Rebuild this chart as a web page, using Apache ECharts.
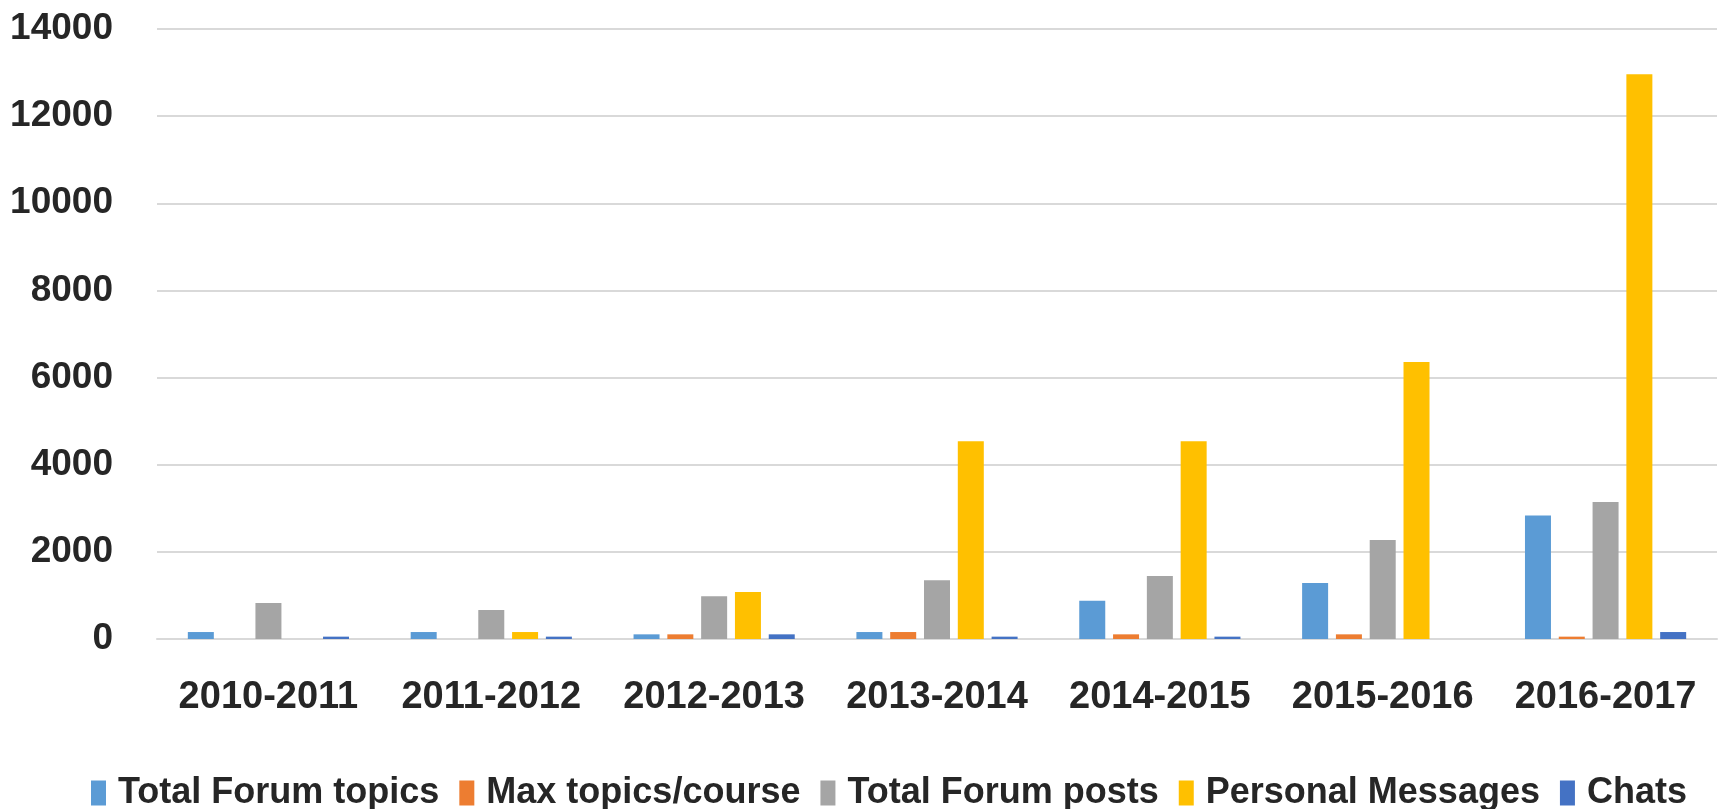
<!DOCTYPE html>
<html>
<head>
<meta charset="utf-8">
<script src="https://cdn.jsdelivr.net/npm/echarts@6/dist/echarts.min.js"></script>
<style>
  html, body { margin: 0; padding: 0; background: #fff; }
  #chart { width: 1721px; height: 809px; }
</style>
</head>
<body>
<div id="chart"></div>
<script>
var years = ['2010-2011', '2011-2012', '2012-2013', '2013-2014', '2014-2015', '2015-2016', '2016-2017'];
var forumTopics = [160, 160, 107, 160, 879, 1284, 2835];
var maxTopics = [0, 0, 107, 160, 107, 107, 54];
var forumPosts = [826, 665, 979, 1346, 1445, 2271, 3142];
var personalMessages = [0, 160, 1080, 4540, 4540, 6355, 12959];
var chats = [54, 54, 107, 54, 54, 0, 160];

var chart = echarts.init(document.getElementById('chart'));

function bar(name, data, color) {
    return {
        name: name,
        type: 'bar',
        data: data,
        barWidth: 26,
        barGap: '30%',
        itemStyle: { color: color }
    };
}

var option = {
    animation: false,
    textStyle: { fontFamily: 'Liberation Sans', fontWeight: 'bold', color: '#262626' },
    grid: { left: 157, right: 4, top: 29, bottom: 170 },
    legend: {
        left: 86,
        top: 770,
        itemWidth: 15,
        itemHeight: 25,
        itemGap: 20,
        icon: 'rect',
        textStyle: { fontSize: 36, fontWeight: 'bold', color: '#262626', padding: [0, 0, 0, 7] }
    },
    xAxis: {
        type: 'category',
        data: years,
        axisTick: { show: false },
        axisLine: { lineStyle: { color: '#d9d9d9', width: 2 } },
        axisLabel: { fontSize: 38, fontWeight: 'bold', color: '#262626', margin: 40, interval: 0 }
    },
    yAxis: {
        type: 'value',
        min: 0,
        max: 14000,
        interval: 2000,
        axisLine: { show: false },
        axisTick: { show: false },
        splitLine: { lineStyle: { color: '#d9d9d9', width: 2 } },
        axisLabel: {
            fontSize: 37, fontWeight: 'bold', color: '#262626', margin: 44,
            formatter: function (v) { return String(v); }
        }
    },
    series: [
        bar('Total Forum topics', forumTopics, '#5B9BD5'),
        bar('Max topics/course', maxTopics, '#ED7D31'),
        bar('Total Forum posts', forumPosts, '#A5A5A5'),
        bar('Personal Messages', personalMessages, '#FFC000'),
        bar('Chats', chats, '#4472C4')
    ]
};
chart.setOption(option);
</script>
</body>
</html>
